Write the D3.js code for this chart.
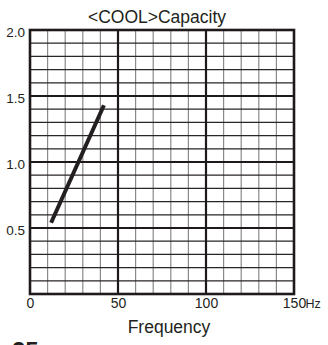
<!DOCTYPE html>
<html>
<head>
<meta charset="utf-8">
<script src="https://cdn.jsdelivr.net/npm/d3@7"></script>
<style>
  html, body { margin: 0; padding: 0; background: #fff; }
  svg { display: block; }
  text { font-family: "Liberation Sans", Arial, sans-serif; fill: #231f20; }
</style>
</head>
<body>
<svg id="chart" width="328" height="345"></svg>
<script>
// ---- data ----
const title = "<COOL>Capacity";
const xLabel = "Frequency";
const xUnit = "Hz";
const xTicks = [0, 50, 100, 150];
const yTicks = [0.5, 1.0, 1.5, 2.0];
const xMinorStep = 10;
const yMinorStep = 0.1;
const frequency = [12, 42];
const capacity = [0.54, 1.43];
const cutText = "25";

// ---- layout ----
const svg = d3.select("#chart");
const W = 328, H = 345;
const x = d3.scaleLinear().domain([0, 150]).range([30, 294]);
const y = d3.scaleLinear().domain([0, 2]).range([294, 30]);

svg.append("rect").attr("width", W).attr("height", H).attr("fill", "#fff");

const grid = svg.append("g");
const xMinor = d3.range(0, 150 + 1e-9, xMinorStep).filter(v => v % 50 !== 0);
const yMinor = d3.range(0, 2 + 1e-9, yMinorStep).map(v => +v.toFixed(2)).filter(v => Math.abs(v * 2 - Math.round(v * 2)) > 1e-6);

// minor vertical (gray)
grid.selectAll(".xm").data(xMinor).join("line")
  .attr("x1", d => x(d)).attr("x2", d => x(d))
  .attr("y1", y(2)).attr("y2", y(0))
  .attr("stroke", "#8a8a8a").attr("stroke-width", 1.2);
// minor horizontal (dark)
grid.selectAll(".ym").data(yMinor).join("line")
  .attr("x1", x(0)).attr("x2", x(150))
  .attr("y1", d => y(d)).attr("y2", d => y(d))
  .attr("stroke", "#2a2526").attr("stroke-width", 1.3);
// major vertical
grid.selectAll(".xM").data([50, 100]).join("line")
  .attr("x1", d => x(d)).attr("x2", d => x(d))
  .attr("y1", y(2)).attr("y2", y(0))
  .attr("stroke", "#1e1a1b").attr("stroke-width", 2.2);
// major horizontal
grid.selectAll(".yM").data([0.5, 1.0, 1.5]).join("line")
  .attr("x1", x(0)).attr("x2", x(150))
  .attr("y1", d => y(d)).attr("y2", d => y(d))
  .attr("stroke", "#1e1a1b").attr("stroke-width", 2.2);
// border
grid.append("rect")
  .attr("x", x(0)).attr("y", y(2))
  .attr("width", x(150) - x(0)).attr("height", y(0) - y(2))
  .attr("fill", "none").attr("stroke", "#1e1a1b").attr("stroke-width", 2.6);

// data line
const line = d3.line().x(d => x(d[0])).y(d => y(d[1]));
svg.append("path")
  .datum(frequency.map((f, i) => [f, capacity[i]]))
  .attr("d", line)
  .attr("fill", "none").attr("stroke", "#231f20").attr("stroke-width", 4)
  .attr("stroke-linecap", "butt");

// y axis labels
const yAxis = d3.axisLeft(y).tickValues(yTicks).tickSize(0).tickPadding(0)
  .tickFormat(d3.format(".1f"));
const gy = svg.append("g").attr("transform", `translate(25,2)`).call(yAxis);
gy.select(".domain").remove();
gy.selectAll("text").attr("font-size", 13.5).attr("fill", "#231f20")
  .attr("font-family", '"Liberation Sans", Arial, sans-serif');

// x axis labels
const xAxis = d3.axisBottom(x).tickValues(xTicks).tickSize(0).tickPadding(0)
  .tickFormat(d3.format("d"));
const gx = svg.append("g").attr("transform", `translate(0,298)`).call(xAxis);
gx.select(".domain").remove();
gx.selectAll("text").attr("font-size", 14).attr("fill", "#231f20")
  .attr("font-family", '"Liberation Sans", Arial, sans-serif');

// unit
svg.append("text")
  .attr("x", x(150) + 11.5).attr("y", 308)
  .attr("font-size", 12.5).text(xUnit);

// title
svg.append("text")
  .attr("x", 157).attr("y", 22.5)
  .attr("text-anchor", "middle").attr("font-size", 17.5).text(title);

// x label
svg.append("text")
  .attr("x", 169).attr("y", 333)
  .attr("text-anchor", "middle").attr("font-size", 17.5).text(xLabel);

// cut-off bold text from below (partly outside the frame, as in the reference)
svg.append("text")
  .attr("x", 12).attr("y", 359)
  .attr("font-size", 24).attr("font-weight", "bold").text(cutText);
</script>
</body>
</html>
